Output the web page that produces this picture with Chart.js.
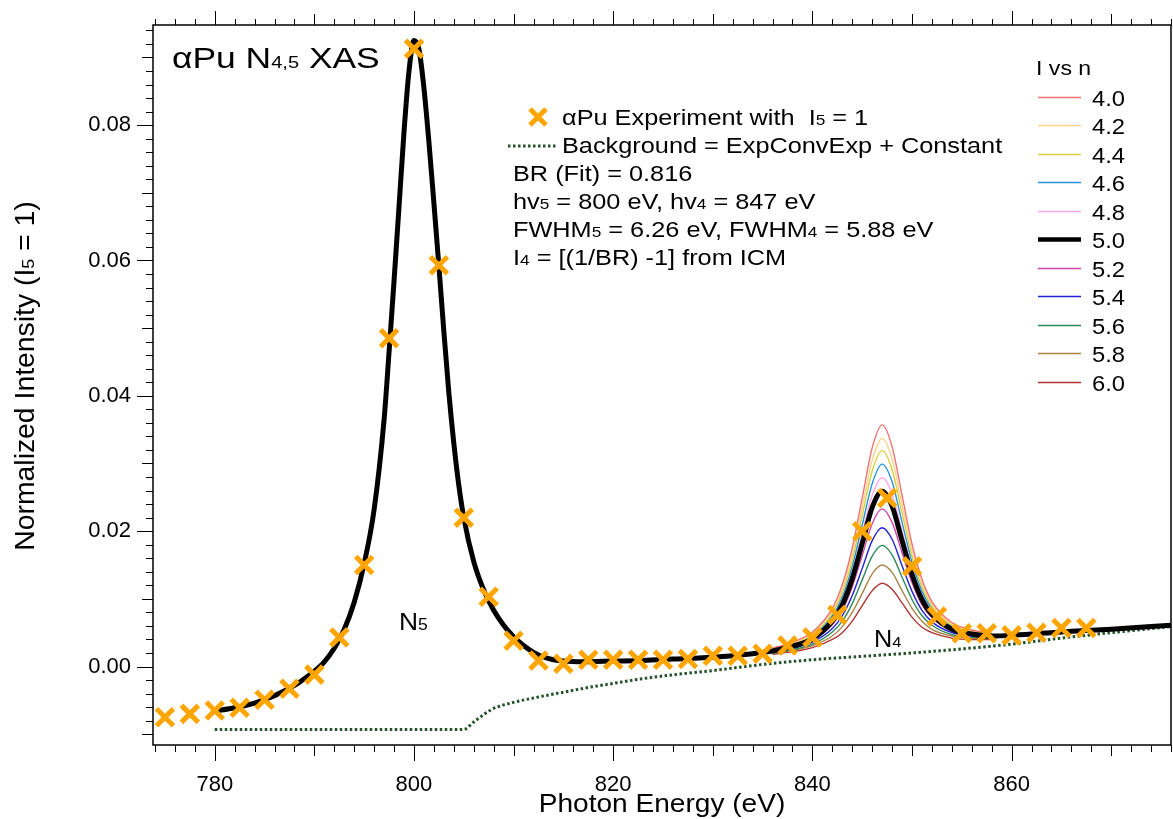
<!DOCTYPE html>
<html>
<head>
<meta charset="utf-8">
<script src="https://cdn.jsdelivr.net/npm/chart.js@4.4.1/dist/chart.umd.min.js"></script>
<style>
  html, body { margin: 0; padding: 0; background: #fff; }
  #wrap { width: 1173px; height: 819px; }
</style>
</head>
<body>
<div id="wrap"><canvas id="xas" width="1173" height="819"></canvas></div>
<script>
// experiment (orange crosses)
const expEnergy = [775, 777.5, 780, 782.5, 785, 787.5, 790, 792.5, 795, 797.5, 800, 802.5, 805, 807.5, 810,
    812.5, 815, 817.5, 820, 822.5, 825, 827.5, 830, 832.5, 835, 837.5, 840, 842.5, 845, 847.5, 850,
    852.5, 855, 857.5, 860, 862.5, 865, 867.5];
const expIntensity = [-0.0075, -0.0070, -0.0065, -0.0061, -0.0049, -0.0033, -0.0012, 0.0043, 0.0150, 0.0485,
    0.0913, 0.0593, 0.0220, 0.0103, 0.0038, 0.0009, 0.0004, 0.0010, 0.0010, 0.0010, 0.0010, 0.0011, 0.0016,
    0.0016, 0.0019, 0.0031, 0.0043, 0.0076, 0.0200, 0.0249, 0.0148, 0.0074, 0.0049, 0.0049, 0.0046, 0.0050,
    0.0057, 0.0057];

// best fit, n = 5.0 (thick black)
const fitEnergy = [780, 782, 784, 786, 788, 789, 790, 791, 792, 793, 794, 795, 796, 797, 797.5, 798, 798.5,
    799, 799.5, 800, 800.5, 801, 801.5, 802, 802.5, 803, 803.5, 804, 804.5, 805, 806, 807, 808, 809, 810,
    811, 812, 813, 814, 815, 817, 820, 823, 826, 829, 832, 834, 836, 838, 840, 842, 843, 844, 845, 846,
    847, 848, 849, 850, 851, 852, 854, 856, 858, 860, 863, 866, 870, 876];
const fitIntensity = [-0.0066, -0.0061, -0.0054, -0.0043, -0.0028, -0.0018, -0.0007, 0.0007, 0.0027, 0.0055,
    0.0095, 0.0152, 0.0232, 0.0365, 0.0465, 0.0570, 0.0680, 0.0790, 0.0880, 0.0925, 0.0912, 0.0855, 0.0775,
    0.0685, 0.0592, 0.0495, 0.0405, 0.0330, 0.0268, 0.0220, 0.0155, 0.0113, 0.0083, 0.0061, 0.0044, 0.0031,
    0.0021, 0.0014, 0.0010, 0.0008, 0.0007, 0.0008, 0.0009, 0.0011, 0.0013, 0.0016, 0.0019, 0.0023, 0.0030,
    0.0041, 0.0067, 0.0091, 0.0130, 0.0182, 0.0235, 0.0259, 0.0237, 0.0186, 0.0136, 0.0099, 0.0077, 0.0055,
    0.0048, 0.0045, 0.0046, 0.0049, 0.0052, 0.0055, 0.0061];

// background (dotted green)
const bgEnergy = [780, 805, 806, 807, 808, 810, 812.5, 815, 817.5, 820, 822.5, 825, 830, 835, 840, 845, 850,
    855, 860, 865, 870, 876];
const bgIntensity = [-0.0093, -0.0093, -0.0082, -0.0071, -0.0062, -0.0053, -0.0045, -0.0038, -0.0031, -0.0025,
    -0.0019, -0.0014, -0.0006, 0.0003, 0.0010, 0.0015, 0.0020, 0.0026, 0.0033, 0.0042, 0.0050, 0.0059];

// N4 peak for other n values
const n4Energy = [836, 838, 840, 842, 843, 844, 845, 846, 847, 848, 849, 850, 851, 852, 854, 856, 858];
const curveN40 = [0.0027, 0.0036, 0.0051, 0.0086, 0.0121, 0.0175, 0.0249, 0.0323, 0.0357, 0.0325, 0.0253, 0.0181, 0.0129, 0.0096, 0.0065, 0.0054, 0.0049];
const curveN42 = [0.0027, 0.0035, 0.0049, 0.0082, 0.0115, 0.0166, 0.0235, 0.0305, 0.0337, 0.0307, 0.0239, 0.0172, 0.0123, 0.0092, 0.0063, 0.0053, 0.0049];
const curveN44 = [0.0026, 0.0034, 0.0047, 0.0079, 0.0109, 0.0157, 0.0223, 0.0289, 0.0319, 0.0291, 0.0227, 0.0163, 0.0117, 0.0089, 0.0061, 0.0052, 0.0048];
const curveN46 = [0.0025, 0.0032, 0.0045, 0.0075, 0.0103, 0.0148, 0.0209, 0.0270, 0.0299, 0.0273, 0.0213, 0.0154, 0.0111, 0.0085, 0.0059, 0.0050, 0.0047];
const curveN48 = [0.0024, 0.0031, 0.0043, 0.0071, 0.0097, 0.0139, 0.0196, 0.0253, 0.0279, 0.0255, 0.0200, 0.0145, 0.0105, 0.0081, 0.0057, 0.0049, 0.0046];
const curveN52 = [0.0022, 0.0029, 0.0039, 0.0062, 0.0083, 0.0118, 0.0164, 0.0211, 0.0233, 0.0213, 0.0168, 0.0124, 0.0091, 0.0072, 0.0053, 0.0047, 0.0044];
const curveN54 = [0.0021, 0.0027, 0.0036, 0.0056, 0.0075, 0.0105, 0.0145, 0.0186, 0.0205, 0.0188, 0.0149, 0.0111, 0.0083, 0.0066, 0.0050, 0.0045, 0.0043];
const curveN56 = [0.0020, 0.0025, 0.0033, 0.0051, 0.0067, 0.0093, 0.0128, 0.0163, 0.0179, 0.0165, 0.0132, 0.0099, 0.0075, 0.0061, 0.0047, 0.0043, 0.0042];
const curveN58 = [0.0019, 0.0024, 0.0031, 0.0045, 0.0059, 0.0080, 0.0108, 0.0137, 0.0150, 0.0139, 0.0112, 0.0086, 0.0067, 0.0055, 0.0045, 0.0042, 0.0041];
const curveN60 = [0.0018, 0.0022, 0.0028, 0.0040, 0.0050, 0.0067, 0.0090, 0.0112, 0.0123, 0.0114, 0.0094, 0.0073, 0.0058, 0.0050, 0.0042, 0.0040, 0.0040];

const nLabels = ['4.0', '4.2', '4.4', '4.6', '4.8', '5.0', '5.2', '5.4', '5.6', '5.8', '6.0'];
const nColors = ['#f07272', '#ffd38e', '#d6d040', '#2494dc', '#ffa8ea', '#000000', '#d244aa', '#2222d6', '#2e8a58', '#aa8446', '#b03434'];
const nCurves = [curveN40, curveN42, curveN44, curveN46, curveN48, null, curveN52, curveN54, curveN56, curveN58, curveN60];

const xTicks = [780, 800, 820, 840, 860];
const yTicks = [0, 0.02, 0.04, 0.06, 0.08];

const FONT = '"Liberation Sans", Arial, sans-serif';
const ORANGE = '#ffa500';
const BG_GREEN = '#24522a';

function pts(xs, ys) {
    return xs.map((x, i) => ({ x: x, y: ys[i] }));
}

// text with smaller subscript pieces, parts = [text, size]
function drawRich(ctx, parts, x, y, sx, center) {
    ctx.save();
    ctx.translate(x, y);
    ctx.scale(sx, 1);
    ctx.textAlign = 'left';
    ctx.textBaseline = 'alphabetic';
    ctx.fillStyle = '#000';
    let w = 0;
    parts.forEach(p => { ctx.font = p[1] + 'px ' + FONT; w += ctx.measureText(p[0]).width; });
    let cx = center ? -w / 2 : 0;
    parts.forEach(p => {
        ctx.font = p[1] + 'px ' + FONT;
        ctx.fillText(p[0], cx, 0);
        cx += ctx.measureText(p[0]).width;
    });
    ctx.restore();
}

// keep the plot box fixed, no extra room for edge labels
function fixBox(s, w, h) {
    if (w) s.width = w;
    if (h) s.height = h;
    s.paddingTop = 0;
    s.paddingBottom = 0;
    s.paddingLeft = 0;
    s.paddingRight = 0;
}

const datasets = [];
datasets.push({
    label: 'αPu Experiment with I5 = 1',
    data: pts(expEnergy, expIntensity),
    showLine: false,
    pointStyle: 'crossRot',
    pointRadius: 12,
    pointBorderWidth: 5,
    pointBorderColor: ORANGE,
    pointBackgroundColor: ORANGE,
    order: 0
});
datasets.push({
    label: '5.0',
    data: pts(fitEnergy, fitIntensity),
    borderColor: '#000',
    borderWidth: 5,
    pointRadius: 0,
    cubicInterpolationMode: 'monotone',
    order: 1
});
nCurves.forEach((c, i) => {
    if (!c) return;
    datasets.push({
        label: nLabels[i],
        data: pts(n4Energy, c),
        borderColor: nColors[i],
        borderWidth: 1.4,
        pointRadius: 0,
        cubicInterpolationMode: 'monotone',
        order: 2
    });
});
datasets.push({
    label: 'Background = ExpConvExp + Constant',
    data: pts(bgEnergy, bgIntensity),
    borderColor: BG_GREEN,
    borderWidth: 3,
    borderDash: [2.5, 2.5],
    pointRadius: 0,
    cubicInterpolationMode: 'monotone',
    order: 3
});

const decorations = {
    id: 'decorations',
    afterDraw(chart) {
        const ctx = chart.ctx;
        const a = chart.chartArea;
        const xs = chart.scales.x, ys = chart.scales.y;
        ctx.save();

        // frame
        ctx.strokeStyle = '#000';
        ctx.lineWidth = 1.5;
        ctx.strokeRect(a.left, a.top, a.right - a.left, a.bottom - a.top);

        // tick marks
        ctx.lineWidth = 1;
        ctx.beginPath();
        for (let v = 774; v <= 876; v += 2) {
            const px = Math.round(xs.getPixelForValue(v)) + 0.5;
            const len = v % 20 === 0 ? 16 : (v % 10 === 0 ? 11 : 7);
            const lenTop = v % 20 === 0 ? 14 : (v % 10 === 0 ? 11 : 6);
            ctx.moveTo(px, a.bottom); ctx.lineTo(px, a.bottom + len);
            ctx.moveTo(px, a.top); ctx.lineTo(px, a.top - lenTop);
        }
        for (let k = -5; k <= 47; k++) {
            const py = Math.round(ys.getPixelForValue(k * 0.002)) + 0.5;
            const len = k % 10 === 0 ? 16 : (k % 5 === 0 ? 11 : 7);
            ctx.moveTo(a.left, py); ctx.lineTo(a.left - len, py);
        }
        ctx.stroke();

        // axis titles
        drawRich(ctx, [['Photon Energy (eV)', 26]], (a.left + a.right) / 2, 812, 1.08, true);
        ctx.save();
        ctx.translate(34, 376);
        ctx.rotate(-Math.PI / 2);
        drawRich(ctx, [['Normalized Intensity (I', 27], ['5', 17], [' = 1)', 27]], 0, 0, 1.05, true);
        ctx.restore();

        // title
        drawRich(ctx, [['αPu N', 30], ['4,5', 17], [' XAS', 30]], 172, 68, 1.18, false);

        // text legend
        const mx = 538, my = 117, r = 8;
        ctx.strokeStyle = ORANGE;
        ctx.lineWidth = 5;
        ctx.beginPath();
        ctx.moveTo(mx - r, my - r); ctx.lineTo(mx + r, my + r);
        ctx.moveTo(mx + r, my - r); ctx.lineTo(mx - r, my + r);
        ctx.stroke();
        ctx.strokeStyle = BG_GREEN;
        ctx.lineWidth = 3;
        ctx.setLineDash([2.5, 2.5]);
        ctx.beginPath();
        ctx.moveTo(508, 146); ctx.lineTo(556, 146);
        ctx.stroke();
        ctx.setLineDash([]);

        const S = 22, s = 15, sx = 1.15;
        drawRich(ctx, [['αPu Experiment with  I', S], ['5', s], [' = 1', S]], 562, 125, sx);
        drawRich(ctx, [['Background = ExpConvExp + Constant', S]], 562, 153, sx);
        drawRich(ctx, [['BR (Fit) = 0.816', S]], 513, 181, sx);
        drawRich(ctx, [['hv', S], ['5', s], [' = 800 eV, hv', S], ['4', s], [' = 847 eV', S]], 513, 209, sx);
        drawRich(ctx, [['FWHM', S], ['5', s], [' = 6.26 eV, FWHM', S], ['4', s], [' = 5.88 eV', S]], 513, 237, sx);
        drawRich(ctx, [['I', S], ['4', s], [' = [(1/BR) -1] from ICM', S]], 513, 265, sx);

        // peak labels
        drawRich(ctx, [['N', 24], ['5', 16]], 399, 630, 1.1);
        drawRich(ctx, [['N', 23], ['4', 15]], 874, 647, 1.1);

        // n legend
        drawRich(ctx, [['I vs n', 21]], 1036, 75, 1.1);
        nLabels.forEach((lab, i) => {
            const y = Math.round(97 + i * 28.45) + 0.5;
            ctx.strokeStyle = nColors[i];
            ctx.lineWidth = lab === '5.0' ? 4.5 : 1.5;
            ctx.beginPath();
            ctx.moveTo(1038, y); ctx.lineTo(1081, y);
            ctx.stroke();
            drawRich(ctx, [[lab, 22]], 1092, y + 8, 1.08);
        });
        ctx.restore();
    }
};

new Chart(document.getElementById('xas'), {
    type: 'line',
    data: { datasets: datasets },
    options: {
        responsive: false,
        animation: false,
        layout: { autoPadding: false, padding: { top: 25, right: 2, left: 0, bottom: 0 } },
        plugins: { legend: { display: false }, tooltip: { enabled: false } },
        scales: {
            x: {
                type: 'linear',
                min: 773.8,
                max: 876,
                grid: { display: false, drawTicks: false },
                border: { display: false },
                afterBuildTicks: s => { s.ticks = xTicks.map(v => ({ value: v })); },
                ticks: {
                    padding: 27,
                    maxRotation: 0,
                    color: '#000',
                    font: { family: FONT, size: 22 },
                    callback: v => String(v)
                },
                afterFit: s => fixBox(s, 0, 74)
            },
            y: {
                min: -0.0116,
                max: 0.0948,
                grid: { display: false, drawTicks: false },
                border: { display: false },
                afterBuildTicks: s => { s.ticks = yTicks.map(v => ({ value: v })); },
                ticks: {
                    padding: 22,
                    color: '#000',
                    font: { family: FONT, size: 22 },
                    callback: v => v.toFixed(2)
                },
                afterFit: s => fixBox(s, 153, 0)
            }
        }
    },
    plugins: [decorations]
});
</script>
</body>
</html>
